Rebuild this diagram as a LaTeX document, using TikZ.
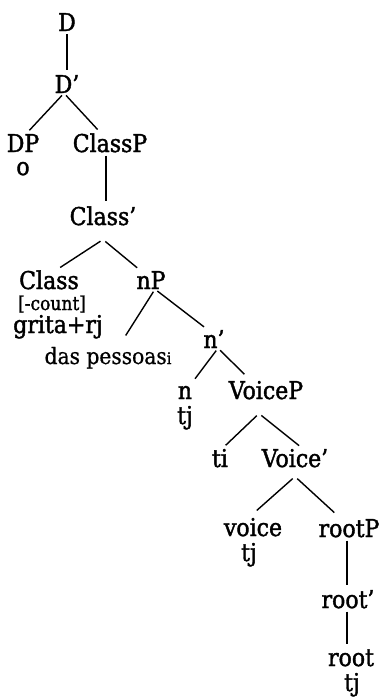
\documentclass[tikz,border=0pt]{standalone}
\usepackage{fontspec}
\setmainfont{DejaVu Serif Condensed}
\newfontfamily\heavyserif{DejaVu Serif Condensed}[FakeBold=1.6]
\newfontfamily\midserif{DejaVu Serif Condensed}[FakeBold=0.7]
\usepackage{tikz}

\tikzset{
  lbl/.style={inner sep=0pt, anchor=base, font=\heavyserif\fontsize{24.5}{26}\selectfont},
  feat/.style={inner sep=0pt, anchor=base, font=\heavyserif\fontsize{19}{21}\selectfont},
  plain/.style={inner sep=0pt, anchor=base, font=\midserif\fontsize{22.5}{24}\selectfont},
  branch/.style={line width=1.4pt, shorten <=3pt, shorten >=5pt},
}

\begin{document}
\begin{tikzpicture}[x=1pt, y=-1pt]
\useasboundingbox (0,0) rectangle (384,697);

% labels, placed on their baselines
\node[lbl] (d) at (67,31) {D};
\node[lbl] (dbar) at (67,93) {D’};
\node[lbl] (dp) at (23,152) {DP};
\node[lbl] (dpo) at (23,175) {o};
\node[lbl] (classp) at (110,152) {ClassP};
\node[lbl] (classbar) at (103,225) {Class’};
\node[lbl] (class) at (49,289) {Class};
\node[feat] (count) at (52,310) {[-count]};
\node[lbl] (grita) at (58,333) {grita+rj};
\node[lbl] (np) at (151,289) {nP};
\node[plain] (pessoas) at (108,364) {das pessoas{\fontsize{16}{18}\selectfont i}};
\node[lbl] (nbar) at (214,348) {n’};
\node[lbl] (n) at (185,399) {n};
\node[lbl] (ntj) at (185,424) {tj};
\node[lbl] (voicep) at (266,399) {VoiceP};
\node[lbl] (ti) at (220,467) {ti};
\node[lbl] (voicebar) at (295,467) {Voice’};
\node[lbl] (voice) at (253,536) {voice};
\node[lbl] (voicetj) at (249,561) {tj};
\node[lbl] (rootp) at (349,537) {rootP};
\node[lbl] (rootbar) at (348,608) {root’};
\node[lbl] (root) at (351,666) {root};
\node[lbl] (roottj) at (352,691) {tj};

% branches
\draw[branch] (d.south) -- (d.south |- dbar.north);
\draw[branch] ([xshift=-3pt]dbar.south) -- ([xshift=3pt]dp.north);
\draw[branch] ([xshift=-3pt]dbar.south) -- ([xshift=-9pt]classp.north);
\draw[branch] ([xshift=-4pt]classp.south) -- ([xshift=-4pt]classp.south |- classbar.north);
\draw[branch] ([yshift=-14pt]classbar.south) -- ([xshift=7pt]class.north);
\draw[branch] ([yshift=-14pt]classbar.south) -- ([xshift=-10pt]np.north);
\draw[branch] ([xshift=4pt]np.south) -- ([xshift=15pt,yshift=7pt]pessoas.north);
\draw[branch] ([xshift=4pt]np.south) -- ([xshift=-6pt]nbar.north);
\draw[branch] ([xshift=4pt]nbar.south) -- ([xshift=7pt,yshift=3pt]n.north);
\draw[branch] ([xshift=4pt]nbar.south) -- ([xshift=-18pt,yshift=3pt]voicep.north);
\draw[branch] ([xshift=-7pt,yshift=-14pt]voicep.south) -- ([xshift=2pt]ti.north);
\draw[branch] ([xshift=-7pt,yshift=-14pt]voicep.south) -- ([xshift=8pt]voicebar.north);
\draw[branch] ([yshift=-9pt]voicebar.south) -- ([yshift=4pt]voice.north);
\draw[branch] ([yshift=-9pt]voicebar.south) -- ([xshift=-11pt,yshift=3pt]rootp.north);
\draw[branch] ([xshift=-2pt]rootp.south) -- ([xshift=-2pt]rootp.south |- rootbar.north);
\draw[branch] ([xshift=-1pt]rootbar.south) -- ([xshift=-1pt]rootbar.south |- root.north);
\end{tikzpicture}
\end{document}
